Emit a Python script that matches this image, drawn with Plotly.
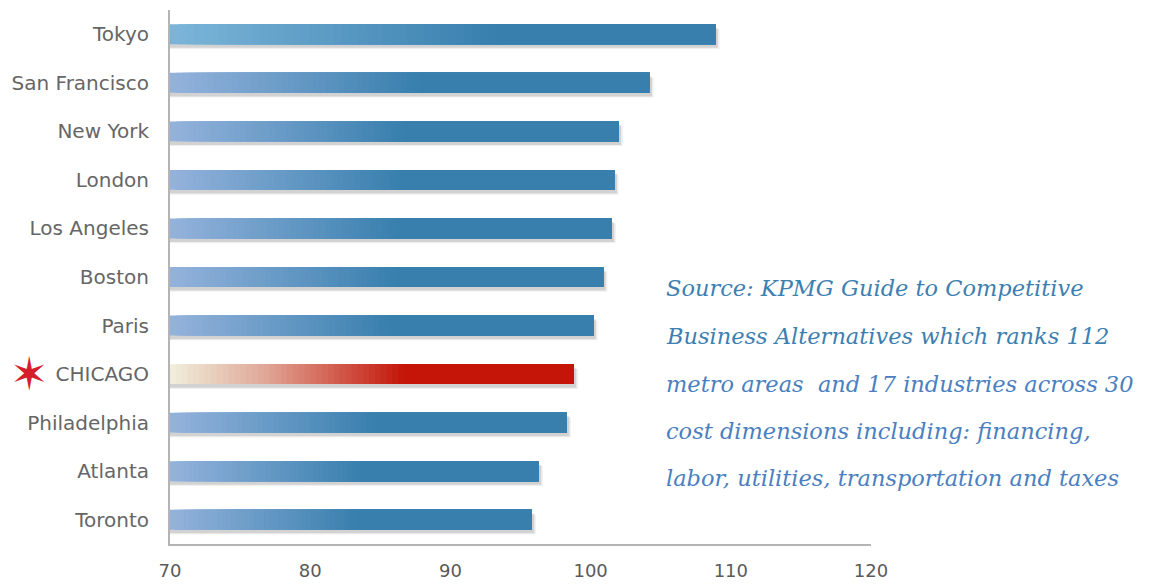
import plotly.graph_objects as go

# ---- data ----
cities = ["Tokyo", "San Francisco", "New York", "London", "Los Angeles", "Boston",
          "Paris", "CHICAGO", "Philadelphia", "Atlanta", "Toronto"]
index_values = [108.9, 104.2, 102.0, 101.7, 101.5, 100.9, 100.2, 98.8, 98.3, 96.3, 95.8]
x_ticks = [70, 80, 90, 100, 110, 120]
source_lines = [
    "Source: KPMG Guide to Competitive",
    "Business Alternatives which ranks 112",
    "metro areas  and 17 industries across 30",
    "cost dimensions including: financing,",
    "labor, utilities, transportation and taxes",
]

# ---- style ----
AXIS_MIN, AXIS_MAX = 70, 120
BAR_W = 0.41
N_SEG = 40


def hex2rgb(h):
    h = h.lstrip("#")
    return tuple(int(h[i:i + 2], 16) for i in (0, 2, 4))


def lerp_stops(stops, t):
    for (t0, c0), (t1, c1) in zip(stops[:-1], stops[1:]):
        if t <= t1:
            f = 0 if t1 == t0 else (t - t0) / (t1 - t0)
            a, b = hex2rgb(c0), hex2rgb(c1)
            return "rgb(%d,%d,%d)" % tuple(round(a[i] + (b[i] - a[i]) * f) for i in range(3))
    return "rgb(%d,%d,%d)" % hex2rgb(stops[-1][1])


blue_stops = [(0, "#94b3dc"), (1, "#387fae")]
tokyo_stops = [(0, "#7cb5d9"), (1, "#387fae")]
red_stops = [(0, "#f0efdc"), (0.4, "#e0a898"), (1, "#c41508")]


def stops_for(c):
    if c == "CHICAGO":
        return red_stops, 0.58
    if c == "Tokyo":
        return tokyo_stops, 0.6
    return blue_stops, 0.52


fig = go.Figure()

# soft shadow (two layers)
for off, ext, col in [(0.1, 0.3, "rgba(0,0,0,0.06)"), (0.075, 0.18, "rgba(0,0,0,0.12)")]:
    fig.add_trace(go.Bar(
        y=cities, x=[v - AXIS_MIN + ext for v in index_values], base=AXIS_MIN,
        orientation="h", width=BAR_W, offset=-BAR_W / 2 + off,
        marker=dict(color=col, line=dict(width=0)),
        hoverinfo="skip", showlegend=False))

# gradient: each layer starts further right and runs to the bar end
for k in range(N_SEG + 1):
    bases, lens, cols = [], [], []
    for c, v in zip(cities, index_values):
        stops, frac = stops_for(c)
        L = v - AXIS_MIN
        start = L * frac * k / N_SEG
        bases.append(AXIS_MIN + start)
        lens.append(L - start)
        cols.append(lerp_stops(stops, min(1.0, (k + 0.5) / N_SEG)))
    fig.add_trace(go.Bar(y=cities, x=lens, base=bases, orientation="h",
                         width=BAR_W, offset=-BAR_W / 2,
                         marker=dict(color=cols, line=dict(width=0)),
                         hovertext=[f"{c}: {v}" for c, v in zip(cities, index_values)],
                         hoverinfo="text", showlegend=False))

# source text
line_colors = ["#3d7fb1", "#3d7fb1", "#4a80c0", "#4a80c0", "#4a80c0"]
line_y = [0.4794, 0.3895, 0.2996, 0.2116, 0.1236]
for txt, col, yy in zip(source_lines, line_colors, line_y):
    fig.add_annotation(text="<i>" + txt + "</i>", xref="paper", yref="paper",
                       x=0.7047, y=yy, xanchor="left", yanchor="middle",
                       showarrow=False,
                       font=dict(family="DejaVu Serif", size=22.5, color=col))

# Chicago star
fig.add_annotation(text="✶", xref="paper", yref="y", x=-0.2, y="CHICAGO",
                   xanchor="center", yanchor="middle", showarrow=False,
                   font=dict(family="DejaVu Sans", size=46, color="#d41e2c"))

# page body has an 8px default margin, so the figure is sized/placed to compensate
fig.update_layout(
    width=1141, height=576,
    margin=dict(l=162, r=278, t=2, b=40),
    paper_bgcolor="white", plot_bgcolor="white",
    barmode="overlay", bargap=0.59,
    xaxis=dict(range=[AXIS_MIN, AXIS_MAX], tickvals=x_ticks, showgrid=False,
               zeroline=False, showline=True, linecolor="#b4b4b4", linewidth=2,
               ticks="", ticklabelstandoff=9, automargin=False,
               tickfont=dict(family="DejaVu Sans", size=18, color="#5a5a5a")),
    yaxis=dict(autorange="reversed", showgrid=False, zeroline=False,
               showline=True, linecolor="#b4b4b4", linewidth=2,
               ticks="", ticklabelstandoff=15, automargin=False,
               tickfont=dict(family="DejaVu Sans", size=20, color="#666666")),
)

fig.write_html("out.html")
